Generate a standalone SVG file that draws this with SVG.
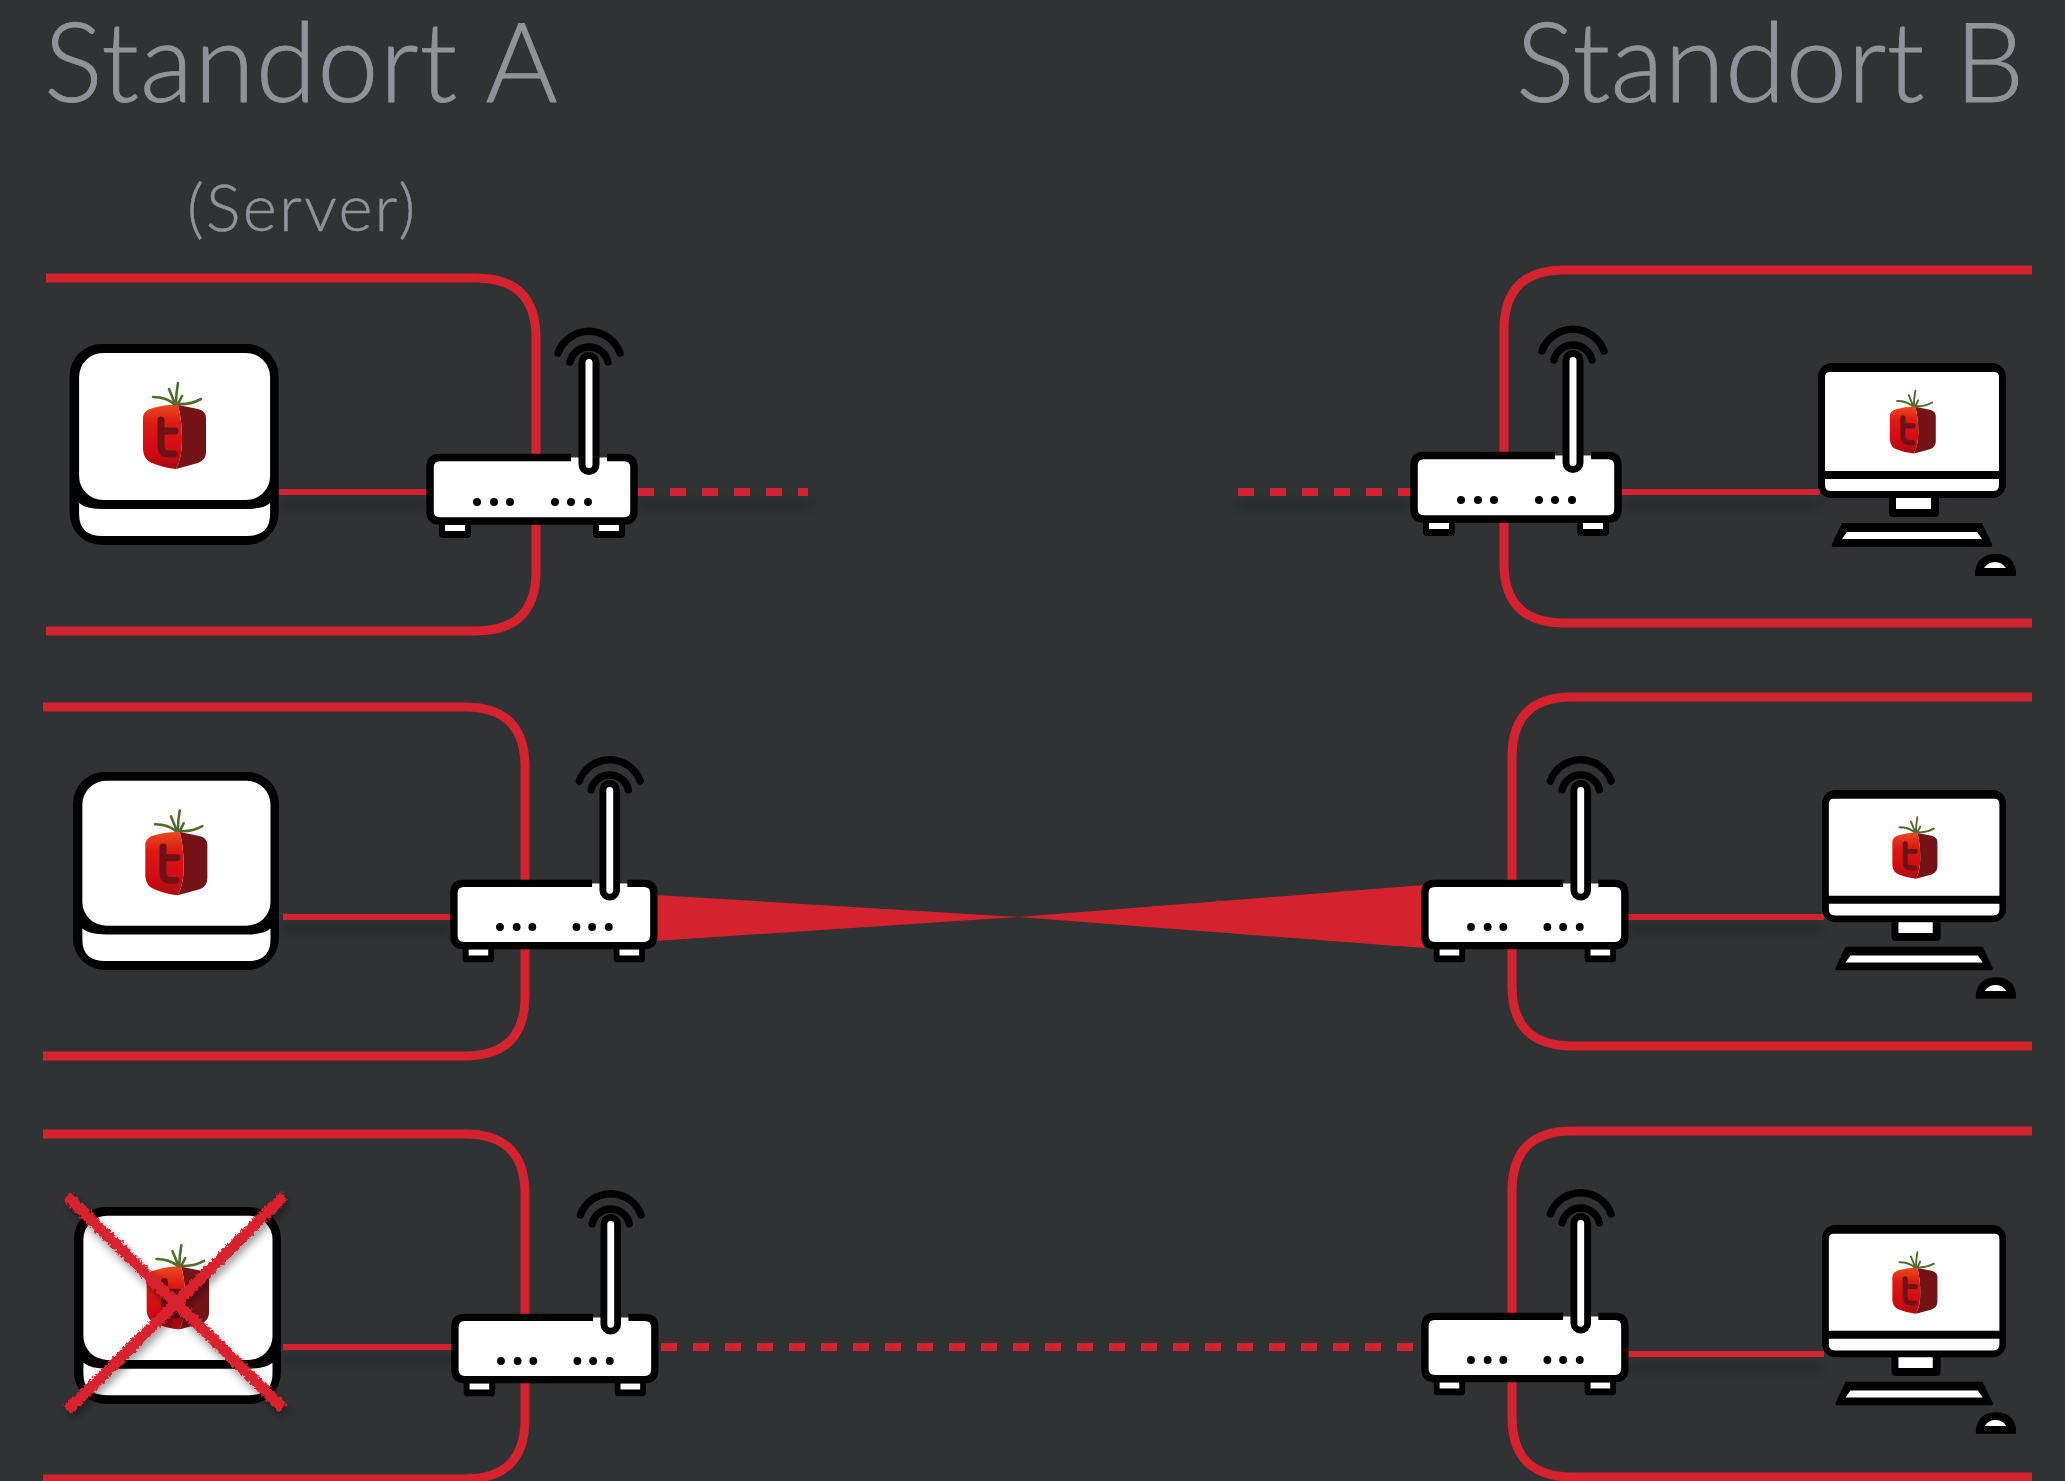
<svg xmlns="http://www.w3.org/2000/svg" width="2065" height="1481" viewBox="0 0 2065 1481">
<style>
.title{font-family:"Lato","Open Sans","Liberation Sans",sans-serif;font-weight:300;fill:#919398;stroke:#919398;stroke-width:.9}
.frame{fill:none;stroke:#d4222e;stroke-width:9}
.link{fill:none;stroke:#d4222e;stroke-width:6}
.dash{stroke-width:8;stroke-dasharray:16 16}
.shadow{fill:none;stroke:#000;stroke-width:8;opacity:.2;filter:url(#blur)}
.k{fill:#000}.w{fill:#fff}
.ks{fill:none;stroke:#000;stroke-linecap:round}
</style>
<defs>
<filter id="blur" x="-10%" y="-500%" width="120%" height="1100%"><feGaussianBlur stdDeviation="4"/></filter>
<filter id="chalk" x="-10%" y="-10%" width="120%" height="120%">
<feTurbulence type="fractalNoise" baseFrequency="0.35" numOctaves="2" seed="4" result="n"/>
<feDisplacementMap in="SourceGraphic" in2="n" scale="6" xChannelSelector="R" yChannelSelector="G" result="d"/>
<feGaussianBlur in="SourceAlpha" stdDeviation="4" result="b"/>
<feOffset in="b" dx="2" dy="5" result="o"/>
<feComponentTransfer in="o" result="s"><feFuncA type="linear" slope=".4"/></feComponentTransfer>
<feMerge><feMergeNode in="s"/><feMergeNode in="d"/></feMerge>
</filter>
<linearGradient id="lg" x1="0" y1="0" x2="0" y2="1"><stop offset="0" stop-color="#ea4a1c"/><stop offset=".3" stop-color="#dc1a14"/><stop offset=".7" stop-color="#d40a14"/><stop offset="1" stop-color="#a50c14"/></linearGradient>
<g id="logo">
<path d="M56 45Q56 33 58 23M55 44Q52 36 49 29M54 44Q46 37 33 37M58 44Q70 45 81 39M58 44Q60 40 62 36" fill="none" stroke="#4f6b2d" stroke-width="2.600" stroke-linecap="round"/>
<path d="M58 45L78 49Q86 51 86 58L86 92Q86 100 78 103L56 109Q62 98 62 80Q62 60 58 45Z" fill="#741416"/>
<path d="M23 57Q24 50 33 48Q48 44 58 45Q62 60 62 80Q62 98 56 109Q44 108 32 103Q24 100 23 90Z" fill="url(#lg)"/>
<path d="M41 60L41 86Q41 94 49 94L54 94M41 71L55 71" fill="none" stroke="#6f1216" stroke-width="7" stroke-linecap="round"/>
</g>
<g id="server">
<rect width="209" height="201" rx="32" class="k"/>
<rect x="9.500" y="9" width="191" height="147" rx="24" class="w"/>
<path class="w" d="M9.500 159Q16 165 34 165L176 165Q194 165 200.500 159L200.500 170Q200.500 192 177 192L33 192Q9.500 192 9.500 170Z"/>
<use href="#logo" x="50.400" y="16"/>
</g>
<g id="router">
<path d="M181 3.500L198 3.500Q208 3.500 208 13.500L208 57Q208 67 198 67L14 67Q4 67 4 57L4 13.500Q4 3.500 14 3.500L145 3.500" fill="#fff" stroke="#000" stroke-width="7.500"/>
<path class="k" d="M13 70L45 70L45 80Q45 84 41 84L17 84Q13 84 13 80ZM167 70L199 70L199 80Q199 84 195 84L171 84Q167 84 167 80Z"/>
<rect class="w" x="19" y="71" width="20" height="6"/><rect class="w" x="173" y="71" width="20" height="6"/>
<circle class="k" cx="51" cy="48" r="4"/><circle class="k" cx="68" cy="48" r="4"/><circle class="k" cx="84" cy="48" r="4"/>
<circle class="k" cx="129" cy="48" r="4"/><circle class="k" cx="145" cy="48" r="4"/><circle class="k" cx="162" cy="48" r="4"/>
<rect x="156" y="-98.500" width="14" height="116" rx="7" fill="#fff" stroke="#000" stroke-width="7"/>
<path class="ks" stroke-width="7.500" d="M132 -101A33 33 0 0 1 194 -101"/>
<path class="ks" stroke-width="7.500" d="M144 -92A19.500 19.500 0 0 1 182 -92"/>
</g>
<g id="pc">
<rect width="188" height="135" rx="14" class="k"/>
<path class="w" d="M7 14Q7 9 12 9L176 9Q181 9 181 14L181 108L7 108Z"/>
<path class="w" d="M7 116L181 116L181 122Q181 128 175 128L13 128Q7 128 7 122Z"/>
<path class="k" d="M71 135L121 135L121 150Q121 154 117 154L75 154Q71 154 71 150Z"/>
<path class="w" d="M78 135L113 135L113 146L78 146Z"/>
<path class="k" d="M24 160L164 160L174 181Q175 184 172 184L16 184Q13 184 14 181Z"/>
<path class="w" d="M29 169L159 169L164 176L24 176Z"/>
<path class="k" d="M157 213L157 208Q160 191 178 191Q195 191 198 208L198 213Z"/>
<path class="w" d="M166 205Q170 199 177 199Q184 199 188 205Z"/>
<use href="#logo" transform="translate(55 11) scale(.73)"/>
</g>
</defs>
<rect width="2065" height="1481" fill="#313234"/>
<g id="labels">
<text class="title" x="44" y="102" font-size="110" letter-spacing="1">Standort A</text>
<text class="title" x="1516" y="102" font-size="110" letter-spacing=".3">Standort B</text>
<text class="title" x="187" y="231" font-size="65" letter-spacing="2.300" style="stroke-width:.5">(Server)</text>
</g>
<g id="connectors">
<path class="frame" d="M46 278L476 278Q536 278 536 338L536 571Q536 631 476 631L46 631"/>
<path class="frame" d="M2032 270L1564 270Q1504 270 1504 330L1504 563Q1504 623 1564 623L2032 623"/>
<path class="frame" d="M43 707L465 707Q525 707 525 767L525 996Q525 1056 465 1056L43 1056"/>
<path class="frame" d="M2032 697L1572 697Q1512 697 1512 757L1512 986Q1512 1046 1572 1046L2032 1046"/>
<path class="frame" d="M43 1134L465 1134Q525 1134 525 1194L525 1419Q525 1479 465 1479L43 1479"/>
<path class="frame" d="M2032 1131L1572 1131Q1512 1131 1512 1191L1512 1417Q1512 1477 1572 1477L2032 1477"/>
<path class="shadow" d="M279 505L428 505M637 505L810 505M1238 505L1409 505M1622 505L1818 505M283 930L452 930M1628 930L1823 930M283 1360L452 1360M1628 1367L1823 1367"/>
<path class="link" d="M279 492L428 492M1620 492L1820 492M283 917L452 917M1626 917L1824 917M283 1347L452 1347M1626 1354L1824 1354"/>
<path class="link dash" d="M638 492L808 492"/>
<path class="link dash" d="M1238 492L1411 492"/>
<path class="link dash" d="M661 1347L1422 1347"/>
<path d="M655 895L1018 917L655 941Z" fill="#d4222e"/>
<path d="M1424 885L1018 917L1424 948Z" fill="#d4222e"/>
</g>
<g id="server-a1"><use href="#server" x="69.600" y="344"/></g>
<g id="router-a1"><use href="#router" x="426" y="454"/></g>
<g id="router-b1"><use href="#router" x="1410" y="452"/></g>
<g id="pc-b1"><use href="#pc" x="1818" y="363"/></g>
<g id="server-a2"><use href="#server" transform="translate(73 772) scale(.985)"/></g>
<g id="router-a2"><use href="#router" transform="translate(450 880) scale(.98)"/></g>
<g id="router-b2"><use href="#router" transform="translate(1421 880) scale(.98)"/></g>
<g id="pc-b2"><use href="#pc" transform="translate(1822 790) scale(.98)"/></g>
<g id="server-a3"><use href="#server" transform="translate(74 1207) scale(.99 .98)"/></g>
<g id="router-a3"><use href="#router" transform="translate(451 1314) scale(.98)"/></g>
<g id="router-b3"><use href="#router" transform="translate(1421 1313) scale(.98)"/></g>
<g id="pc-b3"><use href="#pc" transform="translate(1822 1225) scale(.98)"/></g>
<g id="cross"><path d="M67 1196L283 1408M284 1196L68 1410" fill="none" stroke="#d8232f" stroke-width="11" filter="url(#chalk)"/></g>
</svg>
